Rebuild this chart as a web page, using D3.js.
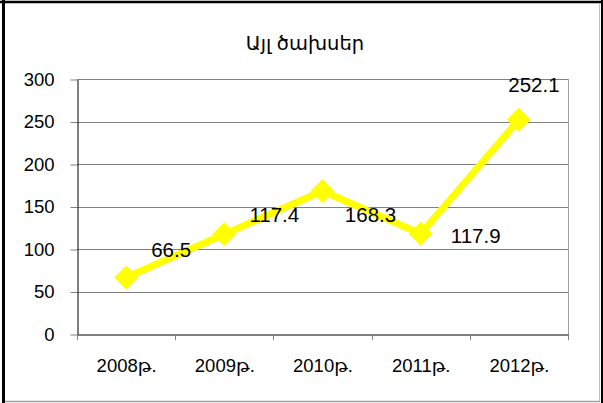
<!DOCTYPE html>
<html><head><meta charset="utf-8">
<script src="https://cdn.jsdelivr.net/npm/d3@7"></script>
<style>body{margin:0;background:#fff}svg{display:block}text{font-family:"Liberation Sans",Arial,"DejaVu Sans",sans-serif}</style>
</head><body>
<script>
const title = "Այլ ծախսեր";
const categories = ["2008թ.", "2009թ.", "2010թ.", "2011թ.", "2012թ."];
const values = [66.5, 117.4, 168.3, 117.9, 252.1];
const yTicks = [0, 50, 100, 150, 200, 250, 300];

const W = 603, H = 403;
const svg = d3.select("body").append("svg").attr("width", W).attr("height", H);
const m = {left: 77, right: 568, top: 79, bottom: 334};

// outer frame
svg.append("rect").attr("x", 0).attr("y", 0).attr("width", W).attr("height", H).attr("fill", "#fff");
svg.append("line").attr("x1", 0).attr("x2", W).attr("y1", 2).attr("y2", 2).attr("stroke", "#000").attr("stroke-width", 2.5);
svg.append("line").attr("x1", 3.5).attr("x2", 3.5).attr("y1", 0).attr("y2", H).attr("stroke", "#000").attr("stroke-width", 3);
svg.append("line").attr("x1", 602).attr("x2", 602).attr("y1", 0).attr("y2", H).attr("stroke", "#000").attr("stroke-width", 2);
svg.append("line").attr("x1", 599.5).attr("x2", 599.5).attr("y1", 3).attr("y2", 401).attr("stroke", "#c0c0c0").attr("stroke-width", 1);
svg.append("line").attr("x1", 5).attr("x2", 600).attr("y1", 401.5).attr("y2", 401.5).attr("stroke", "#a0a0a0").attr("stroke-width", 1.5);

const x = d3.scaleBand().domain(categories).range([m.left, m.right]);
const y = d3.scaleLinear().domain([0, 300]).range([m.bottom, m.top]);

// gridlines
svg.append("g").selectAll("line").data(yTicks.filter(d => d > 0)).join("line")
  .attr("x1", m.left).attr("x2", m.right)
  .attr("y1", d => Math.round(y(d)) + 0.5).attr("y2", d => Math.round(y(d)) + 0.5)
  .attr("stroke", "#808080").attr("stroke-width", 1);
// plot right border
svg.append("line").attr("x1", m.right + 0.5).attr("x2", m.right + 0.5).attr("y1", m.top).attr("y2", m.bottom)
  .attr("stroke", "#a0a0a0");

// y axis
const yAxis = svg.append("g").attr("transform", `translate(${m.left + 0.5},0.5)`)
  .call(d3.axisLeft(y).tickValues(yTicks).tickSize(7).tickPadding(16).tickSizeOuter(0));
yAxis.select(".domain").attr("stroke", "#000");
yAxis.selectAll(".tick line").attr("stroke", "#808080");
yAxis.selectAll("text").attr("font-size", 18.5).attr("fill", "#000");

// x axis
const xAxis = svg.append("g").attr("transform", `translate(0.5,${m.bottom + 0.5})`)
  .call(d3.axisBottom(x).tickSize(0).tickPadding(24).tickSizeOuter(0));
xAxis.select(".domain").attr("stroke", "#000");
xAxis.selectAll("text").attr("font-size", 18.5).attr("fill", "#000");
const bounds = categories.map(c => x(c)).concat([m.right]);
svg.append("g").selectAll("line").data(bounds).join("line")
  .attr("x1", d => Math.round(d) + 0.5).attr("x2", d => Math.round(d) + 0.5)
  .attr("y1", m.bottom).attr("y2", m.bottom + 6).attr("stroke", "#808080");

// line
const pts = categories.map((c, i) => [x(c) + x.bandwidth() / 2, y(values[i])]);
svg.append("path").datum(pts).attr("d", d3.line())
  .attr("fill", "none").attr("stroke", "#ffff00").attr("stroke-width", 7).attr("stroke-linejoin", "round");
svg.append("g").selectAll("path").data(pts).join("path")
  .attr("d", d => `M${d[0]},${d[1] - 12}L${d[0] + 12},${d[1]}L${d[0]},${d[1] + 12}L${d[0] - 12},${d[1]}Z`)
  .attr("fill", "#ffff00");

// data labels (offsets relative to each point)
const labelOffsets = [[45, -20], [50, -12], [48, 31], [55, 9], [15, -28]];
svg.append("g").selectAll("text").data(pts).join("text")
  .attr("x", (d, i) => d[0] + labelOffsets[i][0])
  .attr("y", (d, i) => d[1] + labelOffsets[i][1])
  .attr("text-anchor", "middle").attr("font-size", 20.5).attr("fill", "#000")
  .text((d, i) => values[i].toFixed(1));

// title
svg.append("text").attr("x", 305).attr("y", 50).attr("text-anchor", "middle")
  .attr("font-size", 19.5).attr("fill", "#000").text(title);
</script>
</body></html>
